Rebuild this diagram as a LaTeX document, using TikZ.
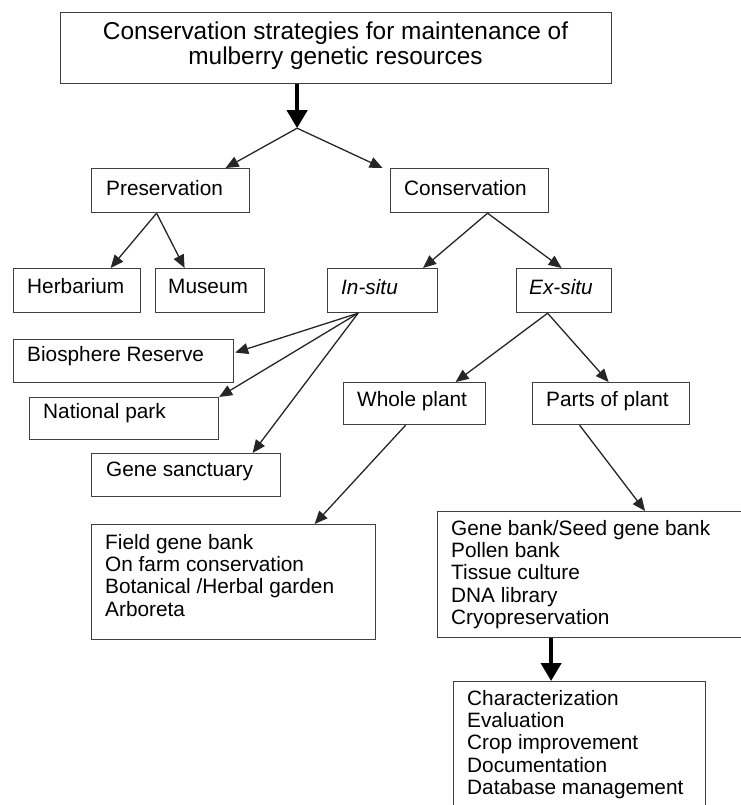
\documentclass[tikz,border=0pt]{standalone}
\usepackage{fontspec}
\setmainfont{Liberation Sans}
\usetikzlibrary{arrows.meta,calc}
\begin{document}
\begin{tikzpicture}[x=1pt,y=-1pt,
  box/.style={draw=black!75, line width=1.2pt, inner sep=0pt, anchor=north west},
  txt/.style={inner sep=0pt, anchor=west, font=\fontsize{20.8}{22.3}\selectfont},
  lst/.style={inner sep=0pt, anchor=north west, align=left, font=\fontsize{20.8}{22.3}\selectfont},
  arr/.style={draw=black!85, line width=1.3pt, -{Triangle[length=13pt,width=11pt]}},
  bigarr/.style={draw=black, line width=4pt, -{Triangle[length=18pt,width=20pt]}}
]
\useasboundingbox (0,0) rectangle (740,805);

% boxes
\node[box, minimum width=551pt, minimum height=71pt] (top) at (60,12) {};
\node[box, minimum width=158pt, minimum height=44pt] (pres) at (91,168) {};
\node[box, minimum width=158pt, minimum height=44pt] (cons) at (390,168) {};
\node[box, minimum width=127pt, minimum height=44pt] (herb) at (13,268) {};
\node[box, minimum width=109pt, minimum height=44pt] (mus) at (155,268) {};
\node[box, minimum width=110pt, minimum height=44pt] (ins) at (327,268) {};
\node[box, minimum width=95pt, minimum height=44pt] (exs) at (516,268) {};
\node[box, minimum width=220pt, minimum height=43pt] (bio) at (13,339) {};
\node[box, minimum width=189pt, minimum height=42pt] (natp) at (29,397) {};
\node[box, minimum width=189pt, minimum height=43pt] (gs) at (91,453) {};
\node[box, minimum width=142pt, minimum height=42pt] (wp) at (343,382) {};
\node[box, minimum width=157pt, minimum height=42pt] (pp) at (532,382) {};
\node[box, minimum width=284pt, minimum height=115pt] (fld) at (91,524) {};
\node[box, minimum width=310pt, minimum height=126pt] (gb) at (437,511) {};
\node[box, minimum width=252pt, minimum height=140pt] (chr) at (453,681) {};

% texts
\node[inner sep=0pt, align=center, font=\fontsize{24.4}{25}\selectfont] (topt) at (335.5,46)
  {Conservation strategies for maintenance of\\mulberry genetic resources};
\node[txt] (prest) at (106,188) {Preservation};
\node[txt] (const) at (404,188) {Conservation};
\node[txt] (herbt) at (27,286) {Herbarium};
\node[txt] (must) at (168,286) {Museum};
\node[txt] (inst) at (341,287) {\itshape In-situ};
\node[txt] (exst) at (529,287) {\itshape Ex-situ};
\node[txt] (biot) at (27,356) {Biosphere Reserve};
\node[txt] (natpt) at (43,413) {National park};
\node[txt] (gst) at (106,471) {Gene sanctuary};
\node[txt] (wpt) at (357,401) {Whole plant};
\node[txt] (ppt) at (546,401) {Parts of plant};
\node[lst] (fldt) at (105,534) {Field gene bank\\On farm conservation\\Botanical /Herbal garden\\Arboreta};
\node[lst] (gbt) at (451,520) {Gene bank/Seed gene bank\\Pollen bank\\Tissue culture\\DNA library\\Cryopreservation};
\node[lst] (chrt) at (467,690) {Characterization\\Evaluation\\Crop improvement\\Documentation\\Database management};

% connectors
\coordinate (j) at ($(top.south)+(-39,44)$);
\draw[bigarr] (top.south -| j) -- (j);
\draw[arr] (j) -- ($(pres.north)+(55,0)$);
\draw[arr] (j) -- ($(cons.north)+(-87,0)$);

\coordinate (pa) at ($(pres.south)+(-14,0)$);
\draw[arr] (pa) -- ($(herb.north)+(33.5,0)$);
\draw[arr] (pa) -- ($(mus.north)+(-25.5,0)$);

\coordinate (ca) at ($(cons.south)+(18,0)$);
\draw[arr] (ca) -- ($(ins.north)+(40.5,0)$);
\draw[arr] (ca) -- ($(exs.north)+(-2.5,0)$);

\coordinate (ia) at ($(ins.south)+(-24.5,0)$);
\draw[arr] (ia) -- ($(bio.east)+(1,-8.5)$);
\draw[arr] (ia) -- (natp.north east);
\draw[arr] (ia) -- ($(gs.north)+(66.5,0)$);

\coordinate (ea) at ($(exs.south)+(-16.5,0)$);
\draw[arr] (ea) -- ($(wp.north)+(41,0)$);
\draw[arr] (ea) -- ($(pp.north)+(-2.5,0)$);

\draw[arr] ($(wp.south)+(-9,0)$) -- ($(fld.north)+(81,0)$);
\draw[arr] ($(pp.south)+(-31.5,0)$) -- ($(gb.north)+(52.5,0)$);

\coordinate (ba) at ($(gb.south)+(-41.5,0)$);
\draw[bigarr] (ba) -- (ba |- chr.north);
\end{tikzpicture}
\end{document}
